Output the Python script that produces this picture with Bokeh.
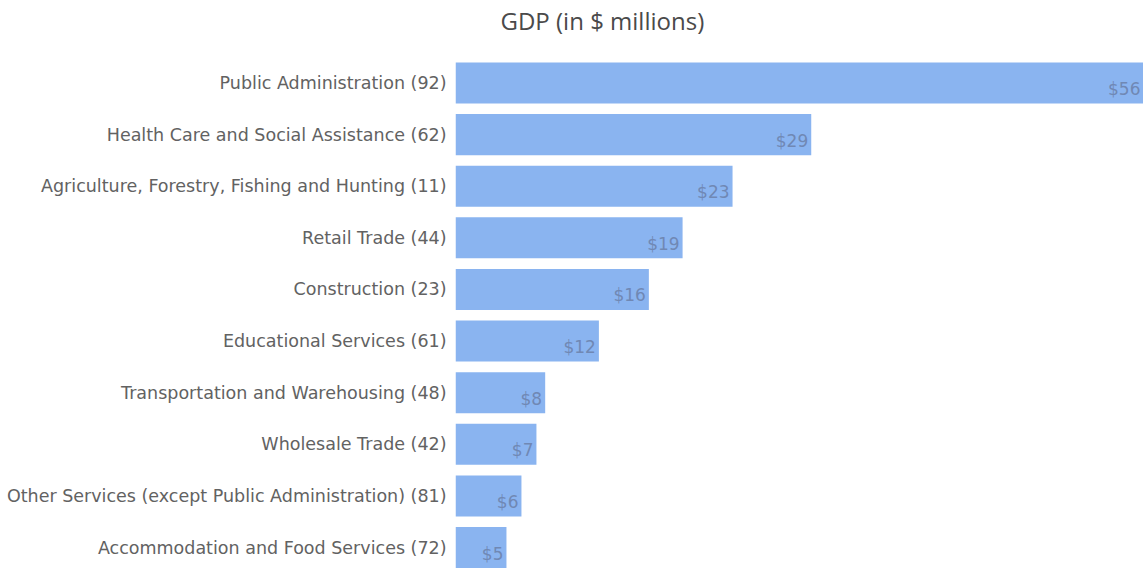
from bokeh.plotting import figure
from bokeh.models import Range1d, FixedTicker, ColumnDataSource, Label
from bokeh.embed import file_html
from bokeh.resources import INLINE
from bokeh.core.properties import value

# ---- data ----
chart_title = "GDP (in $ millions)"
industries = [
    "Public Administration (92)",
    "Health Care and Social Assistance (62)",
    "Agriculture, Forestry, Fishing and Hunting (11)",
    "Retail Trade (44)",
    "Construction (23)",
    "Educational Services (61)",
    "Transportation and Warehousing (48)",
    "Wholesale Trade (42)",
    "Other Services (except Public Administration) (81)",
    "Accommodation and Food Services (72)",
]
gdp_millions = [56.0, 29.4, 23.1, 19.1, 16.4, 12.4, 8.1, 7.4, 6.2, 5.0]
value_labels = ["$56", "$29", "$23", "$19", "$16", "$12", "$8", "$7", "$6", "$5"]

positions = list(range(len(industries)))
src = ColumnDataSource(dict(y=positions, v=gdp_millions, lab=value_labels))

# frame spans the whole height; the top band above the first bar holds the title
p = figure(
    width=1143, height=569,
    output_backend="svg", toolbar_location=None,
    x_range=Range1d(0.92, 56.0),
    y_range=Range1d(9.426, -1.599),
    x_axis_location=None,
    min_border_left=455, min_border_right=0, min_border_bottom=0, min_border_top=0,
)
p.outline_line_color = None
p.grid.visible = False
p.background_fill_color = "white"

p.hbar(y="y", left=0, right="v", height=0.795, source=src,
       fill_color="#8ab4f0", line_color=None)

p.text(x="v", y="y", text="lab", source=src, text_align="right",
       text_baseline="middle", x_offset=-3, y_offset=6,
       text_font=value("DejaVu Sans"), text_font_size="17px",
       text_color="#7088b4")

ax = p.yaxis[0]
ax.ticker = FixedTicker(ticks=positions)
ax.major_label_overrides = {i: name for i, name in zip(positions, industries)}
ax.axis_line_color = None
ax.major_tick_line_color = None
ax.minor_tick_line_color = None
ax.major_label_standoff = 3
ax.major_label_text_font = "DejaVu Sans"
ax.major_label_text_font_size = "17.5px"
ax.major_label_text_color = "#626262"

title = Label(x=45, y=549, x_units="screen", y_units="screen",
              text=chart_title, text_font="Open Sans", text_font_size="24px",
              text_color="#4a4a4a", text_baseline="alphabetic", text_align="left")
p.add_layout(title)

open("out.html", "w").write(file_html(p, INLINE))
